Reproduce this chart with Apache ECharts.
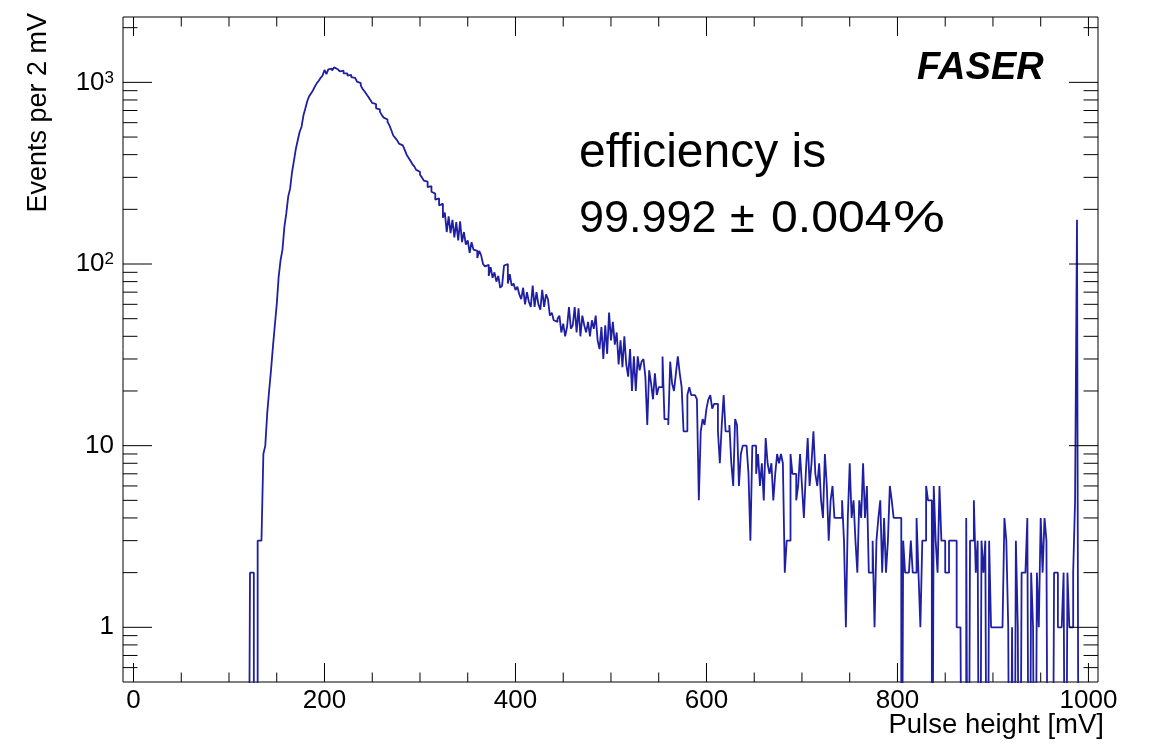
<!DOCTYPE html>
<html><head><meta charset="utf-8">
<script src="https://cdn.jsdelivr.net/npm/echarts@6/dist/echarts.min.js"></script>
<style>html,body{margin:0;padding:0;background:#fff}#c{width:1151px;height:747px}</style>
</head><body><div id="c"></div>
<script>
// ---------------- data ----------------
const binStart = 122;   // mV, lower edge of the first listed bin
const binWidth = 2;     // mV per bin ("Events per 2 mV")
const countsRise = [
  2,2,0,0,3,3,3,9,10,15,
  20,26,35,46,60,85,105,120,160,190,
  235,260,320,370,430,480,535,570,660,720,
  790,840,870,905,950,990,1020,1060,1090,1170];
const countsPeak = [
  1110,1180,1190,1160,1210,1180,1190,1150,1160,1120,
  1120,1090,1100,1070,1060,1050,1010,990,960,920,
  890,860,830,800,770,760,720,710,690,660,
  640,625,605,580,545,510,495,480,460,450,
  445,425,400,385,370,355,345,330,322,310];
const countsSlope = [
  300,288,284,265,268,250,244,226,230,210,
  215,180,192,150,183,148,175,140,170,135,
  172,132,150,128,135,115,132,120,118,108,
  118,112,100,97,99,86,96,84,90,80,
  86,74,76,98,100,78,88,76,78,72,
  75,68,64,74,60,70,62,58,76,58,
  70,60,56,72,58,68,64,52,54,49,
  48,50,52,42,47,40,45,58,44,46,
  58,42,57,40,52,46,42,48,40,49,
  44,52,38,34,45,30,46,32,54,38,
  48,36,42,28,38,27,40,28,24,34,
  20,31,20,31,26,29,30,24,13,26];
const countsTailA = [
  22,18,25,19,21,21,31,14,14,13,
  29,22,20,25,31,25,21,12,12,19,
  21,19,19,19,18,5,12,14,13,16,
  18,19,16,17,17,12,8,13,19,12,
  12,13,8,6,14,13,6,9,10,10,
  10,7,3,10,10,7,9,6,8,5,
  11,8,7,8,5,7,9,8,9,8,
  2,3,3,9,7,7,5,6,9,6,
  4,7,11,6,8,12,7,6,8,5,
  4,9,6,3,5,6,4,4,4,4];
const countsTailB = [
  5,3,1,4,8,4,5,3,2,5,
  4,8,4,6,2,2,3,1,3,4,
  5,2,4,2,3,6,5,4,4,4,
  4,0,3,2,2,2,3,2,2,4,
  2,1,3,3,6,5,5,0,6,3,
  2,6,3,3,2,2,3,3,3,3,
  1,1,1,0,0,4,0,3,3,5,
  2,3,0,3,2,3,0,3,1,1,
  1,1,1,1,1,4,3,1,0,1,
  0,3,1,0,2,2,2,4,0,2,
  1,0,2,1,4,2,4,3,0,0,
  0,2,2,1,1,1,2,0,2,1,
  1,2,5,175];
const xTickLabels = [0, 200, 400, 600, 800, 1000];
const xMinorTickValues = [50,100,150,250,300,350,450,500,550,650,700,750,850,900,950];
const yTickValues = [1, 10, 100, 1000];
const yTickTexts = ['1', '10', '10{sup|2}', '10{sup|3}'];
const yMinorTickValues = [0.6,0.7,0.8,0.9,2,3,4,5,6,7,8,9,20,30,40,50,60,70,80,90,
  200,300,400,500,600,700,800,900,2000];

// ---------------- build ----------------
const counts = [].concat(countsRise, countsPeak, countsSlope, countsTailA, countsTailB);
const EMPTY = 0.01; // empty bins fall below the log axis minimum (clipped, like ROOT)
const hist = [[binStart - binWidth, EMPTY]];
counts.forEach((c, i) => hist.push([binStart + i * binWidth, c > 0 ? c : EMPTY]));
hist.push([binStart + counts.length * binWidth, EMPTY]);

const FONT = 'Liberation Sans, Arial, Helvetica, sans-serif';
const INK = '#000';
const LINE = '#1f1fa3';

const xTickData = xTickLabels.map(v => [v, 1, 1]).concat(xMinorTickValues.map(v => [v, 1, 0]));
const yTickData = yTickValues.map(v => [0, v, 1]).concat(yMinorTickValues.map(v => [0, v, 0]));

function seg(x1, y1, x2, y2) {
  return {type: 'line', shape: {x1, y1, x2, y2}, style: {stroke: INK, lineWidth: 1}};
}
function txt(text, x, y, size, extra) {
  return Object.assign({type: 'text', x: x, y: y, silent: true,
    style: {text: text, fontSize: size, fontFamily: FONT, fill: INK, align: 'left', verticalAlign: 'middle'}},
    extra || {});
}

const chart = echarts.init(document.getElementById('c'), null, {renderer: 'canvas'});
chart.setOption({
  animation: false,
  backgroundColor: '#fff',
  textStyle: {fontFamily: FONT},
  grid: {left: 123, top: 17, width: 975, height: 665, show: true,
         borderColor: '#000', borderWidth: 1, backgroundColor: 'transparent',
         containLabel: false, outerBoundsMode: 'none'},
  xAxis: {
    type: 'value', min: -11, max: 1010,
    axisLine: {show: false}, axisTick: {show: false}, splitLine: {show: false},
    axisLabel: {
      fontSize: 26, color: INK, fontFamily: FONT, margin: 6, hideOverlap: false,
      formatter: v => {
        const r = Math.round(v);
        return (Math.abs(v - r) < 1e-6 && xTickLabels.indexOf(r) >= 0) ? String(r) : '';
      }
    }
  },
  yAxis: {
    type: 'log', logBase: 10, min: 0.5, max: 2290,
    axisLine: {show: false}, axisTick: {show: false}, splitLine: {show: false},
    axisLabel: {
      fontSize: 26, color: INK, fontFamily: FONT, margin: 9, hideOverlap: false,
      formatter: v => {
        for (let i = 0; i < yTickValues.length; i++) {
          if (Math.abs(v - yTickValues[i]) / yTickValues[i] < 1e-6) return yTickTexts[i];
        }
        return '';
      },
      rich: {sup: {fontSize: 17, color: INK, fontFamily: FONT, verticalAlign: 'top'}}
    }
  },
  series: [
    {
      type: 'line', step: 'end', data: hist, symbol: 'none', showSymbol: false,
      lineStyle: {color: LINE, width: 1.8}, clip: true, silent: true, z: 3
    },
    {
      type: 'custom', data: xTickData, silent: true, clip: false, z: 5,
      encode: {x: 0, y: 1},
      renderItem: (params, api) => {
        const cs = params.coordSys;
        const x = api.coord([api.value(0), 1])[0];
        const len = api.value(2) ? 19 : 9.5;
        const b = cs.y + cs.height;
        return {type: 'group', children: [seg(x, b, x, b - len), seg(x, cs.y, x, cs.y + len)]};
      }
    },
    {
      type: 'custom', data: yTickData, silent: true, clip: false, z: 5,
      encode: {x: 0, y: 1},
      renderItem: (params, api) => {
        const cs = params.coordSys;
        const y = api.coord([0, api.value(1)])[1];
        const len = api.value(2) ? 29 : 14.5;
        const r = cs.x + cs.width;
        return {type: 'group', children: [seg(cs.x, y, cs.x + len, y), seg(r, y, r - len, y)]};
      }
    }
  ],
  graphic: [
    {type: 'text', x: 38.6, y: 13, rotation: Math.PI / 2, silent: true,
     style: {text: 'Events per 2 mV', fontSize: 27, fontFamily: FONT, fill: INK,
             align: 'right', verticalAlign: 'middle'}},
    {type: 'text', x: 1104, y: 725.6, silent: true,
     style: {text: 'Pulse height [mV]', fontSize: 27.5, fontFamily: FONT, fill: INK,
             align: 'right', verticalAlign: 'middle'}},
    {type: 'text', x: 917, y: 68.5, silent: true,
     style: {text: 'FASER', fontSize: 38, fontFamily: FONT, fontWeight: 'bold', fontStyle: 'italic',
             fill: INK, align: 'left', verticalAlign: 'middle'}},
    txt('efficiency is', 579, 153.4, 48),
    txt('99.992', 579, 219.4, 45),
    txt('\u00b1', 730, 219.4, 45),
    txt('0.004', 771, 219.4, 45, {scaleX: 1.07}),
    txt('%', 893, 219.4, 45, {scaleX: 1.3})
  ]
});
</script></body></html>
